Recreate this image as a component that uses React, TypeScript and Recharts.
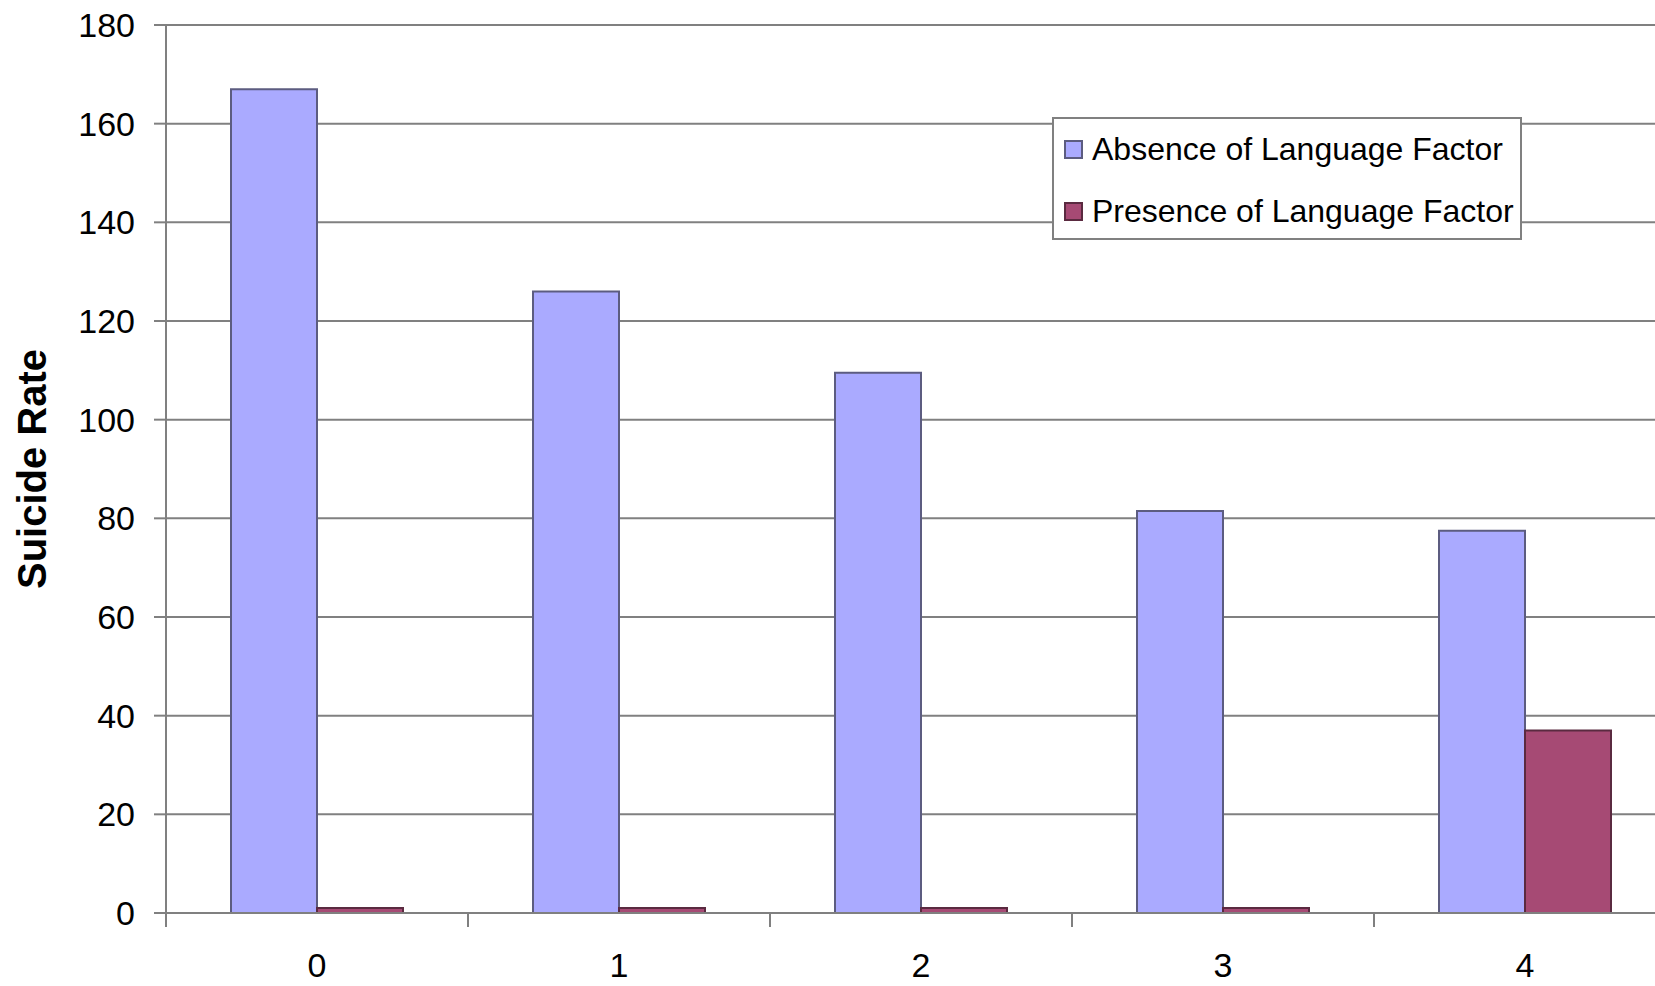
import React from 'react';
import {
  BarChart,
  Bar,
  XAxis,
  YAxis,
  CartesianGrid
} from 'recharts';

// values
const categories = ['0', '1', '2', '3', '4'];
const absenceValues = [167, 126, 109.5, 81.5, 77.5];
const presenceValues = [1, 1, 1, 1, 37];
const yTicks = [0, 20, 40, 60, 80, 100, 120, 140, 160, 180];

const seriesNames = ['Absence of Language Factor', 'Presence of Language Factor'];
const seriesFills = ['#aaaaff', '#a64a74'];
const seriesStrokes = ['#5c5c80', '#5a2a40'];

const FONT = '"Liberation Sans", Arial, sans-serif';
const AXIS_GRAY = '#808080';

const chartData = categories.map((c, i) => ({
  category: c,
  absence: absenceValues[i],
  presence: presenceValues[i]
}));

// category label plus the Excel-style tick mark at the left edge of each band
const CategoryTick = (props: any) => {
  const { x, y, payload, width, visibleTicksCount } = props;
  const count = visibleTicksCount || categories.length;
  const half = width / count / 2;
  return (
    <g>
      <line x1={x - half} y1={y} x2={x - half} y2={y + 14} stroke={AXIS_GRAY} strokeWidth={2} />
      <line x1={x + half} y1={y} x2={x + half} y2={y + 14} stroke={AXIS_GRAY} strokeWidth={2} />
      <text
        x={x}
        y={y + 40}
        dy="0.71em"
        textAnchor="middle"
        fontSize={34}
        fontFamily={FONT}
        fill="#000"
      >
        {payload.value}
      </text>
    </g>
  );
};

// legend drawn as an overlay so it doesn't eat into the plot area
const LegendBox = () => (
  <div
    style={{
      position: 'absolute',
      left: 1052,
      top: 117,
      width: 470,
      height: 123,
      boxSizing: 'border-box',
      border: `2px solid ${AXIS_GRAY}`,
      background: '#fff',
      padding: '15px 0 0 10px'
    }}
  >
    {seriesNames.map((name, i) => (
      <div
        key={name}
        style={{ display: 'flex', alignItems: 'center', height: 31, marginBottom: i === 0 ? 31 : 0 }}
      >
        <div
          style={{
            width: 19,
            height: 19,
            boxSizing: 'border-box',
            background: seriesFills[i],
            border: `2px solid ${seriesStrokes[i]}`,
            marginRight: 9
          }}
        />
        <span style={{ fontFamily: FONT, fontSize: 32, color: '#000', whiteSpace: 'nowrap' }}>
          {name}
        </span>
      </div>
    ))}
  </div>
);

const App: React.FC = () => {
  return (
    <div
      style={{
        position: 'fixed',
        left: 0,
        top: 0,
        width: 1655,
        height: 986,
        overflow: 'hidden',
        background: '#fff'
      }}
    >
      <BarChart
        width={1700}
        height={986}
        data={chartData}
        margin={{ top: 25, right: 24, bottom: 0, left: 0 }}
        barCategoryGap={65}
        barGap={0}
      >
        <CartesianGrid vertical={false} stroke={AXIS_GRAY} strokeWidth={2} />
        <XAxis
          dataKey="category"
          axisLine={{ stroke: AXIS_GRAY, strokeWidth: 2 }}
          tickLine={false}
          tickSize={0}
          tickMargin={0}
          height={73}
          interval={0}
          tick={<CategoryTick />}
        />
        <YAxis
          domain={[0, 180]}
          ticks={yTicks}
          width={166}
          axisLine={{ stroke: AXIS_GRAY, strokeWidth: 2 }}
          tickLine={{ stroke: AXIS_GRAY, strokeWidth: 2 }}
          tickSize={12}
          tickMargin={19}
          tick={{ fontSize: 34, fill: '#000', fontFamily: FONT }}
          label={{
            value: 'Suicide Rate',
            angle: -90,
            position: 'insideLeft',
            offset: 0,
            dx: 32,
            style: { fontSize: 40, fontWeight: 'bold', fill: '#000', fontFamily: FONT, textAnchor: 'middle' }
          }}
        />
        <Bar
          dataKey="absence"
          name={seriesNames[0]}
          fill={seriesFills[0]}
          stroke={seriesStrokes[0]}
          strokeWidth={2}
          isAnimationActive={false}
        />
        <Bar
          dataKey="presence"
          name={seriesNames[1]}
          fill={seriesFills[1]}
          stroke={seriesStrokes[1]}
          strokeWidth={2}
          isAnimationActive={false}
        />
      </BarChart>
      <LegendBox />
    </div>
  );
};

export default App;
